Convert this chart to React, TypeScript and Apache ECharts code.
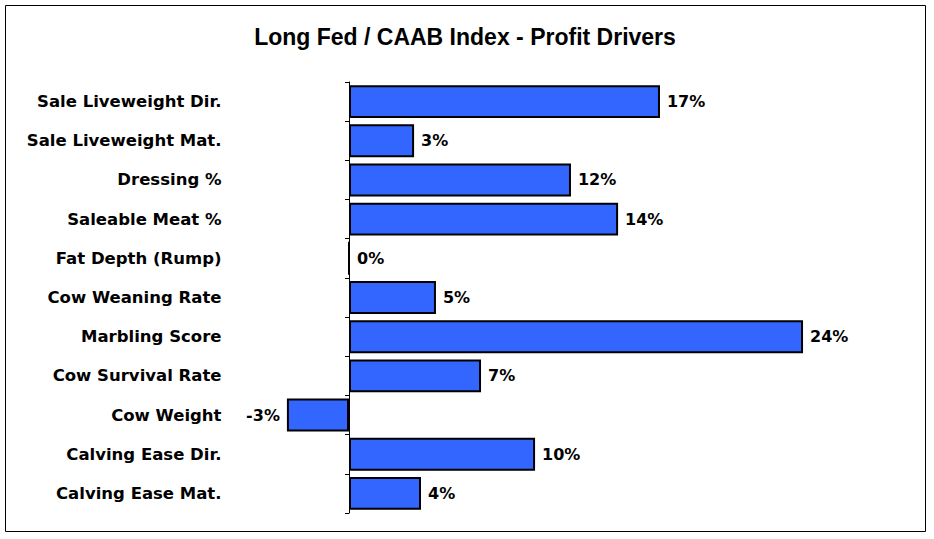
import React, { useEffect, useRef } from "react";
import * as echarts from "echarts";

const title = "Long Fed / CAAB Index - Profit Drivers";
const categories = [
  "Sale Liveweight Dir.",
  "Sale Liveweight Mat.",
  "Dressing %",
  "Saleable Meat %",
  "Fat Depth (Rump)",
  "Cow Weaning Rate",
  "Marbling Score",
  "Cow Survival Rate",
  "Cow Weight",
  "Calving Ease Dir.",
  "Calving Ease Mat.",
];
const values = [16.63, 3.48, 11.87, 14.39, 0, 4.65, 24.28, 7.06, -3.32, 9.95, 3.85];

export default function App() {
  const ref = useRef<HTMLDivElement>(null);
  useEffect(() => {
    if (!ref.current) return;
    const chart = echarts.init(ref.current, null, { renderer: "svg" });
    const font = "'DejaVu Sans', Arial, sans-serif";
    const titleFont = "'Liberation Sans', Arial, sans-serif";
    chart.setOption({
      animation: false,
      backgroundColor: "#ffffff",
      title: {
        text: title,
        left: 460,
        textAlign: "center",
        top: 20,
        textStyle: { fontFamily: titleFont, fontSize: 23, fontWeight: "bold", color: "#000" },
      },
      graphic: [
        {
          type: "rect",
          shape: { x: 5.5, y: 5.5, width: 920, height: 526 },
          style: { fill: "none", stroke: "#000", lineWidth: 1 },
          silent: true,
        },
      ],
      grid: {
        left: 255.5,
        right: 117.5,
        top: 82,
        bottom: 26,
        containLabel: false,
        outerBoundsMode: "none",
      },
      xAxis: {
        type: "value",
        min: -5,
        max: 25,
        show: false,
      },
      yAxis: {
        type: "category",
        inverse: true,
        data: categories,
        axisLine: { show: true, onZero: true, lineStyle: { color: "#000", width: 1 } },
        axisTick: { show: true, length: 4, lineStyle: { color: "#000" } },
        axisLabel: {
          margin: 34,
          fontFamily: font,
          fontSize: 16.5,
          fontWeight: "bold",
          color: "#000",
        },
        splitLine: { show: false },
      },
      series: [
        {
          type: "bar",
          data: values.map((v) => ({
            value: v,
            label: { position: v < 0 ? "left" : "right" },
          })),
          barCategoryGap: "16%",
          itemStyle: { color: "#3366FF", borderColor: "#000", borderWidth: 2 },
          label: {
            show: true,
            distance: 7,
            fontFamily: font,
            fontSize: 16,
            fontWeight: "bold",
            color: "#000",
            formatter: (p: any) => Math.round(p.value) + "%",
          },
        },
      ],
    });
    return () => chart.dispose();
  }, []);
  return (
    <div
      ref={ref}
      style={{ position: "fixed", left: 0, top: 0, width: 934, height: 539 }}
    />
  );
}
